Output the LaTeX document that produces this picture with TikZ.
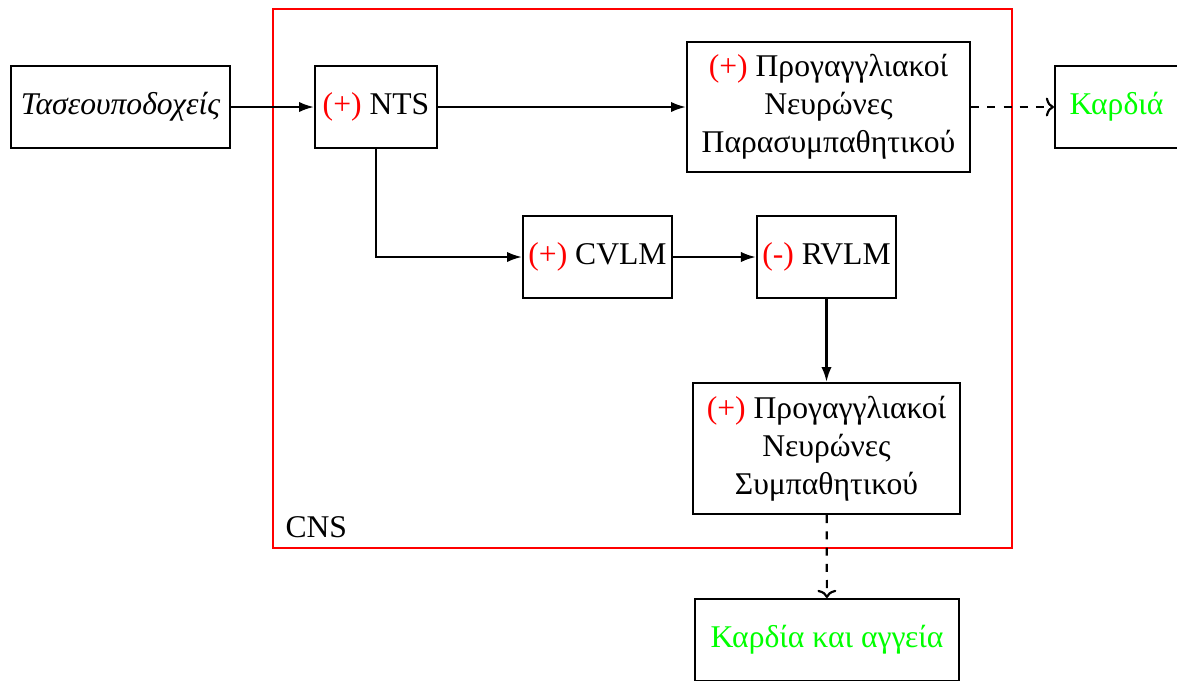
\documentclass[tikz,border=0pt]{standalone}
\usepackage{fontspec}
\setmainfont{Liberation Serif}
\usetikzlibrary{arrows.meta}
\begin{document}
\begin{tikzpicture}[x=0.37pt, y=-0.37pt,
  font=\fontsize{11.7}{14}\selectfont,
  blk/.style={draw, thick, align=center, inner sep=2pt},
  flow/.style={thick, -{Latex[length=5.5pt, width=3.8pt]}},
  effect/.style={thick, dashed, -{To[length=3pt, width=7pt]}}]
  \useasboundingbox (0,0) rectangle (1177,680);

  % central nervous system region
  \draw[red, thick] (273,9) rectangle (1012,548);
  \node[anchor=south west, inner sep=0pt] (cns) at (285,538) {CNS};

  % blocks
  \node[blk, minimum width=81pt, minimum height=30.3pt] (baro) at (120.5,107) {\itshape Τασεουποδοχείς};
  \node[blk, minimum width=45.1pt, minimum height=30.3pt] (nts) at (376,107) {\textcolor{red}{(+)} NTS};
  \node[blk, minimum width=104.7pt, minimum height=48.1pt] (para) at (828.5,107)
    {\textcolor{red}{(+)} Προγαγγλιακοί\\Νευρώνες\\Παρασυμπαθητικού};
  \node[blk, minimum width=45.5pt, minimum height=30.3pt, text=green] (heart) at (1116.5,107) {Καρδιά};
  \node[blk, minimum width=55.1pt, minimum height=30.3pt] (cvlm) at (597.5,257) {\textcolor{red}{(+)} CVLM};
  \node[blk, minimum width=51.4pt, minimum height=30.3pt] (rvlm) at (826.5,257) {\textcolor{red}{(-)} RVLM};
  \node[blk, minimum width=98.8pt, minimum height=48.5pt] (symp) at (826.5,448.5)
    {\textcolor{red}{(+)} Προγαγγλιακοί\\Νευρώνες\\Συμπαθητικού};
  \node[blk, minimum width=97.7pt, minimum height=30.3pt, text=green] (vessels) at (827,640) {Καρδία και αγγεία};

  % connections
  \draw[flow] (baro) -- (nts);
  \draw[flow] (nts) -- (para);
  \draw[effect] (para) -- (heart);
  \draw[flow] (nts.south) |- (cvlm.west);
  \draw[flow] (cvlm) -- (rvlm);
  \draw[flow] (rvlm) -- (symp);
  \draw[effect] (symp) -- (vessels);
\end{tikzpicture}
\end{document}
